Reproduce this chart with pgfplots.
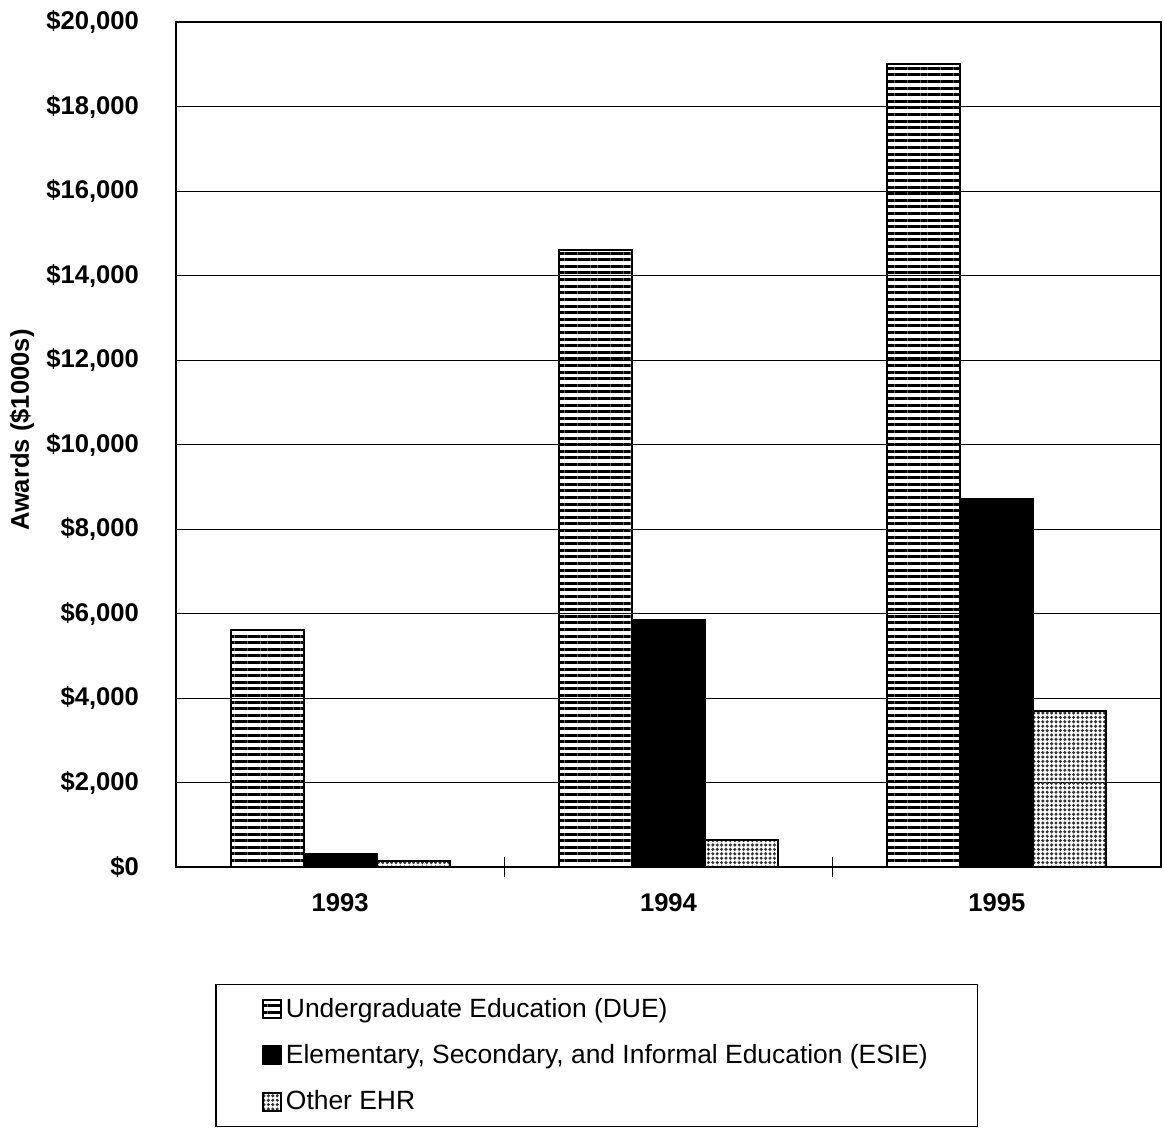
\documentclass[border=0pt]{standalone}
\usepackage{fontspec}
\setmainfont{Liberation Sans}
\usepackage{pgfplots}
\pgfplotsset{compat=1.18}
\usetikzlibrary{patterns.meta}

\newcommand{\lblfont}{\bfseries\fontsize{12.8}{15}\selectfont}

\begin{document}
\begin{tikzpicture}
\begin{axis}[
  name=ax,
  scale only axis,
  width=492.5pt, height=422.5pt,
  ybar=0pt, bar width=36.5pt,
  xmin=-0.5, xmax=2.5, ymin=0, ymax=20000,
  axis line style={black, line width=1.2pt},
  tick pos=left,
  tick align=center,
  major tick length=10pt,
  xtick={0.5,1.5}, xticklabels={},
  x tick style={black, line width=0.8pt},
  extra x ticks={0,1,2},
  extra x tick labels={1993,1994,1995},
  extra x tick style={major tick length=0pt},
  xticklabel style={font=\lblfont, yshift=-10pt},
  ytick distance=2000,
  y tick style={draw=none},
  ymajorgrids, grid style={black, line width=0.5pt},
  scaled y ticks=false,
  /pgf/number format/.cd, fixed, precision=0, 1000 sep={,}, assume math mode=true,
  /pgfplots/.cd,
  yticklabel={\$\pgfmathprintnumber{\tick}},
  yticklabel style={font=\lblfont, xshift=-10pt},
  ylabel={Awards (\$1000s)},
  ylabel style={font=\lblfont, at={(axis description cs:-0.1563,0.517)}, anchor=center},
  legend cell align=left,
  legend image code/.code={\draw[#1] (0pt,-4.5pt) rectangle (9pt,4.5pt);},
  legend style={at={(0.04,-0.138)}, anchor=north west, draw=black, line width=0.6pt,
    inner xsep=23pt, inner ysep=5pt, row sep=8pt,
    font=\fontsize{13.2}{15.5}\selectfont,
    nodes={inner xsep=2pt}},
]
\addplot[draw=black, line width=1pt, pattern={Lines[angle=0, distance=3.3pt, line width=1.5pt]}, pattern color=black]
  coordinates {(0,5600) (1,14600) (2,19000)};
\addplot[draw=black, line width=1pt, fill=black]
  coordinates {(0,300) (1,5850) (2,8700)};
\addplot[draw=black, line width=1pt, pattern={Dots[distance=2.2pt, radius=0.85pt]}, pattern color=black!80]
  coordinates {(0,150) (1,650) (2,3700)};
\legend{Undergraduate Education (DUE), {Elementary, Secondary, and Informal Education (ESIE)}, Other EHR}
\end{axis}
\useasboundingbox ([shift={(-88pt,-132pt)}]ax.south west) rectangle ++(582.5pt,565.5pt);
\end{tikzpicture}
\end{document}
